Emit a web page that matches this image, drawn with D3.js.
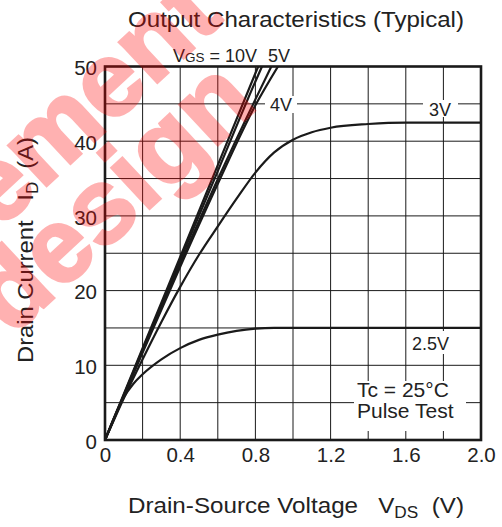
<html>
<head>
<meta charset="utf-8">
<title>Output Characteristics</title>
<style>
body { margin: 0; background: #fff; }
svg text { font-family: "Liberation Sans", Arial, sans-serif; fill: #222; white-space: pre; }
</style>
</head>
<body>
<svg width="502" height="527"></svg>
<script src="https://d3js.org/d3.v7.min.js"></script>
<script>
// values (VDS in volts, ID in amps)
var vds10 = [0, 0.2, 0.4, 0.6, 0.8, 0.815];
var id10  = [0, 12.3, 24.5, 36.8, 49.1, 50];
var vds6  = [0, 0.2, 0.4, 0.6, 0.8, 0.835];
var id6   = [0, 12.1, 24.1, 36.0, 48.0, 50];
var vds5  = [0, 0.2, 0.4, 0.6, 0.8, 0.885];
var id5   = [0, 11.9, 23.6, 34.9, 45.6, 50];
var vds4  = [0, 0.2, 0.4, 0.6, 0.8, 0.92];
var id4   = [0, 11.7, 23.2, 34.3, 44.8, 50];
var vds3  = [0, 0.1, 0.2, 0.3, 0.4, 0.5, 0.6, 0.7, 0.8, 0.9, 1.0, 1.1, 1.2, 1.4, 1.6, 2.0];
var id3   = [0, 5.6, 10.8, 15.8, 20.5, 24.8, 28.6, 32.3, 35.8, 38.5, 40.2, 41.2, 41.8, 42.3, 42.5, 42.5];
var vds25 = [0, 0.05, 0.1, 0.15, 0.2, 0.3, 0.4, 0.5, 0.6, 0.7, 0.8, 0.9, 2.0];
var id25  = [0, 3.1, 5.7, 7.5, 8.8, 10.8, 12.3, 13.4, 14.1, 14.6, 14.9, 15, 15];

var xTicks = [0, 0.4, 0.8, 1.2, 1.6, 2.0];
var yTicks = [0, 10, 20, 30, 40, 50];

var series = [
  {name: "10V", v: vds10, i: id10},
  {name: "6V",  v: vds6,  i: id6},
  {name: "5V",  v: vds5,  i: id5},
  {name: "4V",  v: vds4,  i: id4},
  {name: "3V",  v: vds3,  i: id3},
  {name: "2.5V", v: vds25, i: id25}
];

var svg = d3.select("svg");
var pL = 105, pR = 481, pT = 66.5, pB = 440;

var x = d3.scaleLinear().domain([0, 2]).range([pL, pR]);
var y = d3.scaleLinear().domain([0, 50]).range([pB, pT]);

svg.append("rect").attr("width", 502).attr("height", 527).attr("fill", "#fff");

// grid
var grid = svg.append("g").attr("stroke", "#1a1a1a").attr("stroke-width", 1);
grid.selectAll(".gx").data(d3.range(1, 10)).enter().append("line")
    .attr("x1", function(d) { return x(d * 0.2); })
    .attr("x2", function(d) { return x(d * 0.2); })
    .attr("y1", pT).attr("y2", pB);
grid.selectAll(".gy").data(d3.range(1, 10)).enter().append("line")
    .attr("y1", function(d) { return y(d * 5); })
    .attr("y2", function(d) { return y(d * 5); })
    .attr("x1", pL).attr("x2", pR);

// white patches behind the labels
var boxes = [
  [265, 96, 32, 17],
  [423, 100, 35, 17],
  [409, 331, 44, 23],
  [354, 381, 112, 50]
];
svg.selectAll(".bg").data(boxes).enter().append("rect")
    .attr("x", function(d) { return d[0]; })
    .attr("y", function(d) { return d[1]; })
    .attr("width", function(d) { return d[2]; })
    .attr("height", function(d) { return d[3]; })
    .attr("fill", "#fff");

// curves
svg.append("clipPath").attr("id", "plot")
  .append("rect").attr("x", pL).attr("y", pT).attr("width", pR - pL).attr("height", pB - pT);

var line = d3.line()
    .x(function(d) { return x(d[0]); })
    .y(function(d) { return y(d[1]); })
    .curve(d3.curveMonotoneX);

svg.append("g").attr("clip-path", "url(#plot)")
  .selectAll("path").data(series).enter().append("path")
    .attr("d", function(s) { return line(s.v.map(function(v, k) { return [v, s.i[k]]; })); })
    .attr("fill", "none")
    .attr("stroke", "#1a1a1a")
    .attr("stroke-width", 2.2);

// frame
svg.append("rect")
    .attr("x", pL).attr("y", pT)
    .attr("width", pR - pL).attr("height", pB - pT)
    .attr("fill", "none").attr("stroke", "#1a1a1a").attr("stroke-width", 2.6);

// axes (labels only)
var xAxis = svg.append("g").attr("transform", "translate(0," + pB + ")")
    .call(d3.axisBottom(x).tickValues(xTicks).tickSize(0).tickPadding(8)
      .tickFormat(function(d) { return d === 0 ? "0" : d3.format(".1f")(d); }));
var yAxis = svg.append("g").attr("transform", "translate(" + pL + ",0)")
    .call(d3.axisLeft(y).tickValues(yTicks).tickSize(0).tickPadding(8));
[xAxis, yAxis].forEach(function(a) {
  a.select(".domain").remove();
  a.selectAll("text").attr("font-size", 20.5).attr("font-family", null).attr("fill", "#222");
});
xAxis.selectAll("text").attr("y", 22).attr("dy", 0);
yAxis.selectAll("text").attr("dy", "0.4em");

// title
svg.append("text").attr("x", 296).attr("y", 27).attr("text-anchor", "middle")
    .attr("font-size", 22.5).attr("textLength", 336).attr("lengthAdjust", "spacingAndGlyphs")
    .text("Output Characteristics (Typical)");

// axis titles
var xt = svg.append("text").attr("x", 128).attr("y", 513).attr("font-size", 22.5)
    .attr("textLength", 336).attr("lengthAdjust", "spacingAndGlyphs");
xt.append("tspan").text("Drain-Source Voltage   V");
xt.append("tspan").attr("font-size", 16).attr("dy", 5).text("DS");
xt.append("tspan").attr("dy", -5).text("  (V)");

var yt = svg.append("text").attr("transform", "translate(33,363) rotate(-90)")
    .attr("font-size", 22.5).attr("textLength", 226).attr("lengthAdjust", "spacingAndGlyphs");
yt.append("tspan").text("Drain Current   I");
yt.append("tspan").attr("font-size", 16).attr("dy", 5).text("D");
yt.append("tspan").attr("dy", -5).text("  (A)");

// curve labels
var vg = svg.append("text").attr("y", 62).attr("font-size", 18);
vg.append("tspan").attr("x", 173).text("V");
vg.append("tspan").attr("font-size", 13.5).text("GS");
vg.append("tspan").text(" = 10V");
vg.append("tspan").attr("x", 268).text("5V");

svg.append("text").attr("x", 270).attr("y", 111).attr("font-size", 18).text("4V");
svg.append("text").attr("x", 429).attr("y", 116).attr("font-size", 18).text("3V");
svg.append("text").attr("x", 412).attr("y", 350).attr("font-size", 18).text("2.5V");
svg.append("text").attr("x", 357).attr("y", 397).attr("font-size", 21).text("Tc = 25\u00b0C");
svg.append("text").attr("x", 357).attr("y", 418).attr("font-size", 21).text("Pulse Test");

// watermark
var wm = svg.append("g").attr("transform", "translate(12,337) rotate(-43)")
    .attr("opacity", 0.3)
    .style("font-family", "'DejaVu Sans', sans-serif").style("font-weight", "bold")
    .attr("font-size", 105);
wm.append("text").attr("x", -25).attr("y", -87)
    .style("fill", "#f00").style("stroke", "#f00").style("stroke-width", 3).text("element");
wm.append("text").attr("x", 0).attr("y", 0)
    .style("fill", "#f00").style("stroke", "#f00").style("stroke-width", 3).text("design");
</script>
</body>
</html>
